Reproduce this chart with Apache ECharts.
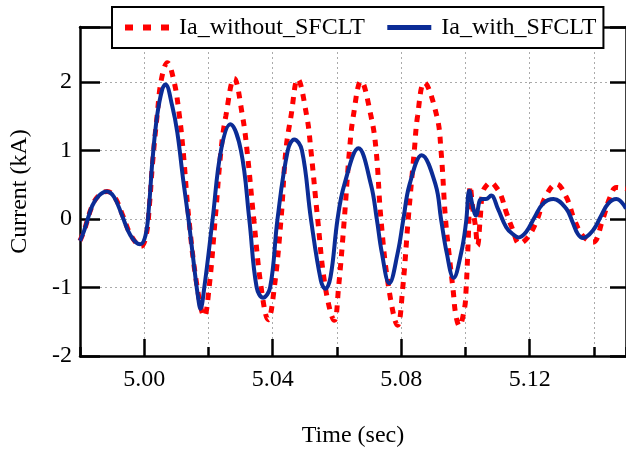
<!DOCTYPE html>
<html>
<head>
<meta charset="utf-8">
<title>Ia with / without SFCLT</title>
<script src="https://cdn.jsdelivr.net/npm/echarts@6/dist/echarts.min.js"></script>
<style>
  html, body { margin: 0; padding: 0; background: #fff; }
  #chart { width: 626px; height: 453px; }
</style>
</head>
<body>
<div id="chart"></div>
<script>
// series names
const seriesNames = ["Ia_without_SFCLT", "Ia_with_SFCLT"];

// Ia without SFCLT (red dotted), time in sec / current in kA
const timeWithout = [
  4.9800, 4.9813, 4.9838, 4.9860, 4.9885, 4.9908, 4.9933, 4.9960, 4.9990, 5.0006,
  5.0016, 5.0026, 5.0040, 5.0054, 5.0072, 5.0093, 5.0108, 5.0121, 5.0139, 5.0165,
  5.0187,
  5.0202, 5.0221, 5.0239, 5.0254, 5.0280, 5.0306, 5.0320, 5.0341, 5.0364, 5.0386,
  5.0405, 5.0426, 5.0441, 5.0457, 5.0478, 5.0506, 5.0519, 5.0540, 5.0564, 5.0592,
  5.0605, 5.0623, 5.0639, 5.0651, 5.0675, 5.0706, 5.0722, 5.0737, 5.0761, 5.0789,
  5.0805, 5.0822, 5.0841, 5.0851, 5.0872, 5.0911, 5.0924, 5.0938, 5.0950, 5.0962,
  5.0970, 5.0981, 5.0997, 5.1002, 5.1007, 5.1010, 5.1015, 5.1023, 5.1031, 5.1038,
  5.1046, 5.1054, 5.1068, 5.1080, 5.1096, 5.1111, 5.1127, 5.1147, 5.1168, 5.1194,
  5.1220, 5.1251, 5.1283, 5.1314, 5.1340, 5.1366, 5.1397, 5.1428, 5.1449, 5.1470,
  5.1500
];
const currentWithout = [
  -0.32, -0.17, 0.19, 0.35, 0.40, 0.32, 0.05, -0.25, -0.40, -0.24,
  0.19, 0.82, 1.50, 2.05, 2.28, 2.00, 1.56, 1.00, 0.00, -1.00,
  -1.42,
  -1.00, 0.00, 1.00, 1.50, 2.05, 1.50, 1.00, 0.00, -1.00, -1.47,
  -1.00, 0.00, 1.00, 1.50, 2.04, 1.50, 1.00, 0.00, -1.00, -1.48,
  -1.00, 0.00, 1.00, 1.50, 2.01, 1.50, 1.00, 0.00, -1.00, -1.55,
  -1.00, 0.00, 1.00, 1.50, 1.99, 1.50, 1.00, 0.00, -0.55, -1.05,
  -1.40, -1.56, -1.31, -1.04, -0.53, -0.15, 0.48, 0.15, -0.10, -0.39,
  0.00, 0.39, 0.50, 0.53, 0.46, 0.34, 0.10, -0.15, -0.36, -0.27,
  -0.05, 0.34, 0.51, 0.32, -0.02, -0.25, -0.34, 0.00, 0.30, 0.46,
  0.44
];

// Ia with SFCLT (blue solid)
const timeWith = [
  4.9800, 4.9813, 4.9838, 4.9859, 4.9883, 4.9906, 4.9931, 4.9957, 4.9987, 5.0004,
  5.0015, 5.0025, 5.0040, 5.0056, 5.0066, 5.0087, 5.0103, 5.0121, 5.0139, 5.0155,
  5.0167, 5.0175, 5.0187, 5.0213,
  5.0239, 5.0268, 5.0301, 5.0327, 5.0350, 5.0370, 5.0392, 5.0415, 5.0447, 5.0467,
  5.0491, 5.0519, 5.0550, 5.0564, 5.0580, 5.0602, 5.0623, 5.0667, 5.0706, 5.0724,
  5.0740, 5.0763, 5.0789, 5.0807, 5.0826, 5.0864, 5.0907, 5.0924, 5.0942, 5.0963,
  5.0987, 5.1002, 5.1012, 5.1022, 5.1033, 5.1049, 5.1064, 5.1080, 5.1101, 5.1127,
  5.1147, 5.1165, 5.1189, 5.1215, 5.1241, 5.1274, 5.1314, 5.1334, 5.1350, 5.1366,
  5.1397, 5.1423, 5.1444, 5.1470, 5.1500
];
const currentWith = [
  -0.32, -0.17, 0.19, 0.34, 0.40, 0.32, 0.05, -0.24, -0.37, -0.24,
  0.19, 0.82, 1.50, 1.89, 1.96, 1.65, 1.26, 0.58, -0.05, -0.68,
  -1.12, -1.31, -1.00, 0.00,
  1.00, 1.38, 1.00, 0.00, -1.00, -1.15, -1.00, 0.00, 1.00, 1.16,
  1.00, 0.00, -0.90, -1.02, -0.85, 0.00, 0.50, 1.03, 0.50, 0.00,
  -0.50, -0.94, -0.50, 0.00, 0.50, 0.93, 0.50, 0.00, -0.50, -0.86,
  -0.49, -0.05, 0.41, 0.20, 0.05, 0.29, 0.29, 0.34, 0.15, -0.12,
  -0.22, -0.27, -0.19, 0.02, 0.22, 0.29, 0.15, -0.05, -0.22, -0.28,
  -0.17, 0.05, 0.22, 0.29, 0.15
];

// axis ticks
const xMajorTicks = [5.00, 5.04, 5.08, 5.12];
const yTickLabels = [-2, -1, 0, 1, 2];

const FONT = "'Liberation Serif', 'DejaVu Serif', serif";
const black = { color: "#000", width: 2.5 };

function zip(xs, ys) {
  return xs.map((x, i) => [x, ys[i]]);
}

const chart = echarts.init(document.getElementById("chart"));

const option = {
  animation: false,
  backgroundColor: "#fff",
  grid: { left: 80, right: 0, top: 27, bottom: 96 },
  legend: {
    left: 112,
    top: 7,
    itemWidth: 44,
    itemHeight: 14,
    itemGap: 20,
    padding: [7, 7, 7, 10],
    borderColor: "#000",
    borderWidth: 2,
    backgroundColor: "#fff",
    itemStyle: { opacity: 0 },
    textStyle: {
      fontFamily: FONT,
      fontSize: 24,
      color: "#000",
      lineHeight: 27,
      padding: [0, 0, 0, 5],
    },
    data: [
      {
        name: seriesNames[0],
        lineStyle: { color: "#ff0000", width: 6, type: [8, 10] },
      },
      {
        name: seriesNames[1],
        lineStyle: { color: "#0b2c96", width: 5 },
      },
    ],
  },
  xAxis: [
    {
      type: "value",
      position: "bottom",
      min: 4.98,
      max: 5.15,
      interval: 0.02,
      axisLine: { onZero: false, lineStyle: black },
      axisTick: { inside: true, length: 9, lineStyle: black },
      axisLabel: { show: false },
      splitLine: {
        show: true,
        lineStyle: { color: "#aaa", width: 1, type: [2, 3] },
      },
    },
    {
      type: "value",
      position: "bottom",
      min: 4.98,
      max: 5.15,
      axisLine: { show: false, onZero: false },
      axisTick: {
        inside: true,
        length: 17,
        customValues: xMajorTicks,
        lineStyle: black,
      },
      axisLabel: {
        customValues: xMajorTicks,
        formatter: (v) => v.toFixed(2),
        margin: 12,
        fontFamily: FONT,
        fontSize: 24,
        color: "#000",
      },
      splitLine: { show: false },
      name: "Time (sec)",
      nameLocation: "middle",
      nameGap: 68,
      nameTextStyle: { fontFamily: FONT, fontSize: 24, color: "#000" },
    },
    {
      type: "value",
      position: "top",
      min: 4.98,
      max: 5.15,
      axisLine: { onZero: false, lineStyle: black },
      axisTick: { show: false },
      axisLabel: { show: false },
      splitLine: { show: false },
    },
  ],
  yAxis: [
    {
      type: "value",
      position: "left",
      min: -2,
      max: 2.8,
      interval: 1,
      axisLine: { onZero: false, lineStyle: black },
      axisTick: { inside: true, length: 20, lineStyle: black },
      axisLabel: {
        formatter: (v) => (yTickLabels.includes(v) ? String(v) : ""),
        margin: 8,
        fontFamily: FONT,
        fontSize: 24,
        color: "#000",
      },
      splitLine: {
        show: true,
        lineStyle: { color: "#aaa", width: 1, type: [2, 3] },
      },
      name: "Current (kA)",
      nameLocation: "middle",
      nameGap: 48,
      nameTextStyle: { fontFamily: FONT, fontSize: 24, color: "#000" },
    },
    {
      type: "value",
      position: "right",
      min: -2,
      max: 2.8,
      interval: 1,
      axisLine: { onZero: false, lineStyle: black },
      axisTick: { inside: true, length: 16, lineStyle: black },
      axisLabel: { show: false },
      splitLine: { show: false },
    },
  ],
  series: [
    {
      name: seriesNames[0],
      type: "line",
      data: zip(timeWithout, currentWithout),
      symbol: "none",
      smooth: 0.4,
      z: 2,
      itemStyle: { color: "#ff0000" },
      lineStyle: { color: "#ff0000", width: 5, type: [7, 7] },
    },
    {
      name: seriesNames[1],
      type: "line",
      data: zip(timeWith, currentWith),
      symbol: "none",
      smooth: 0.4,
      z: 3,
      itemStyle: { color: "#0b2c96" },
      lineStyle: { color: "#0b2c96", width: 4 },
    },
  ],
};

chart.setOption(option);
</script>
</body>
</html>
